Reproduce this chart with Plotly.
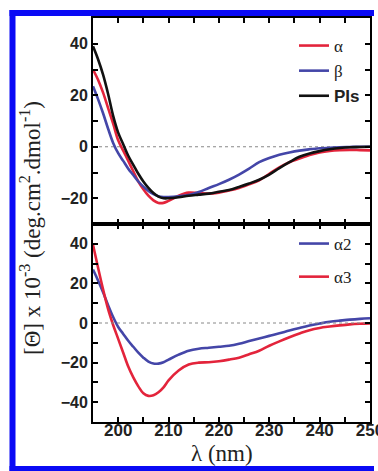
import plotly.graph_objects as go
from plotly.subplots import make_subplots

# ---------------- data ----------------
wl = [195, 196, 197, 198, 199, 200, 201, 202, 203, 204, 205, 206, 207, 208, 209, 210,
      212, 214, 216, 218, 220, 222, 224, 226, 228, 230, 232, 234, 236, 238, 240,
      242, 244, 246, 248, 250]

alpha = [30, 26, 21, 15, 9, 2.5, -1.5, -5.5, -9.5, -13.5, -16.5, -19, -20.8, -21.8, -21.8, -21,
         -19, -17.8, -18, -18.2, -17.8, -17, -16, -14.6, -13, -10.5, -8, -6, -4.6, -3.2, -2.2,
         -1.6, -1.3, -1.2, -1.3, -1.4]
beta = [23.5, 18.5, 13, 7, 1.5, -2.5, -5.5, -8.5, -11, -13.5, -15.5, -17.2, -18.4, -19.2, -19.5, -19.5,
        -19.2, -18.7, -17.6, -16, -14.5, -12.8, -10.8, -8.5, -6, -4.4, -3.1, -2.2, -1.5, -1.0, -0.6,
        -0.4, -0.2, -0.1, 0, 0]
pis = [39, 34, 28, 20.5, 12, 5.5, 1, -3.5, -7, -10.5, -13.5, -16, -18, -19.4, -20, -20,
       -19.6, -19, -18.6, -18.2, -17.5, -16.8, -15.6, -14.3, -12.8, -10.8, -8.3, -6, -3.9, -2.6, -1.7,
       -1.0, -0.5, -0.2, -0.1, 0]

alpha2 = [27, 21.5, 15.5, 9, 3, -2, -5.5, -9, -12, -15, -17.5, -19.5, -20.5, -20.5, -19.8, -18.5,
          -16, -14, -13, -12.5, -12, -11.5, -10.5, -9.1, -7.8, -6.5, -5.2, -3.8, -2.5, -1.3, -0.3,
          0.6, 1.2, 1.7, 2.1, 2.4]
alpha3 = [39.5, 28, 17, 7, -1, -8, -15, -22, -27.5, -32, -35.5, -36.8, -36.5, -35, -32.5, -29,
          -24, -21, -20, -19.8, -19.3, -18.5, -17.5, -15.8, -14, -11.5, -9.3, -7.2, -5.3, -3.6, -2.5,
          -1.8, -1.2, -0.7, -0.4, -0.2]

x_range = [195, 250]
x_ticks = [200, 210, 220, 230, 240, 250]
y_ticks = [-40, -20, 0, 20, 40]
zero_line = [0, 0]

RED = "#e3243b"
BLUE = "#4446a8"
BLACK = "#111111"

fig = make_subplots(rows=2, cols=1, shared_xaxes=True, vertical_spacing=0,
                    row_heights=[206, 198])

serif = "Liberation Serif"
sans = "Liberation Sans"

def nm(t, fam):
    return f'<span style="font-family:{fam}">{t}</span>'

# dotted zero line, top panel
fig.add_trace(go.Scatter(x=x_range, y=zero_line, mode="lines", showlegend=False, hoverinfo="skip",
                         line=dict(color="#888888", width=1, dash="dot")), row=1, col=1)

top = [("α", alpha, RED, serif), ("β", beta, BLUE, serif), ("<b>PIs</b>", pis, BLACK, sans)]
for i, (name, ys, col, fam) in enumerate(top):
    fig.add_trace(go.Scatter(x=wl, y=ys, mode="lines", name=nm(name, fam),
                             line=dict(color=col, width=2.6, shape="spline"),
                             legend="legend", legendgroup=f"t{i}"), row=1, col=1)

# dotted zero line, bottom panel (on overlay axis that carries the tick labels)
fig.add_trace(go.Scatter(x=x_range, y=zero_line, mode="lines", showlegend=False, hoverinfo="skip",
                         xaxis="x3", yaxis="y2",
                         line=dict(color="#888888", width=1, dash="dot")))

bot = [("α2", alpha2, BLUE), ("α3", alpha3, RED)]
for i, (name, ys, col) in enumerate(bot):
    fig.add_trace(go.Scatter(x=wl, y=ys, mode="lines", name=nm(name, serif),
                             line=dict(color=col, width=2.6, shape="spline"),
                             legend="legend2", legendgroup=f"b{i}"), row=2, col=1)

axis_common = dict(showline=True, linecolor="black", linewidth=2, mirror="allticks",
                   ticks="inside", ticklen=5, tickwidth=1.5, tickcolor="black",
                   showgrid=False, zeroline=False, automargin=False)

fig.update_xaxes(range=x_range, tickvals=x_ticks, showticklabels=False, **axis_common,
                 minor=dict(ticks="inside", ticklen=5, tickwidth=1.5, tickcolor="black", dtick=5, tick0=195))
fig.update_yaxes(tickvals=y_ticks, **axis_common,
                 tickfont=dict(family=sans, size=16, color="#222222", weight="bold"),
                 minor=dict(ticks="inside", ticklen=5, tickwidth=1.5, tickcolor="black", dtick=10, tick0=0))
fig.update_yaxes(range=[-30, 50], row=1, col=1)
fig.update_yaxes(range=[-50, 50], row=2, col=1)

W, H = 378, 471
L, R, T, B = 93, 8, 18, 49
pw, ph = W - L - R, H - T - B

def px(x):
    return (x - L) / pw

def py(y):
    return (H - B - y) / ph

fig.update_layout(
    width=W, height=H,
    margin=dict(l=L, r=R, t=T, b=B, autoexpand=False),
    plot_bgcolor="white", paper_bgcolor="white",
    xaxis3=dict(overlaying="x2", anchor="free", position=py(418), side="bottom",
                range=x_range, tickvals=x_ticks, showline=False, ticks="", showgrid=False,
                zeroline=False, automargin=False, ticklabeloverflow="allow",
                tickfont=dict(family=sans, size=17, color="#222222", weight="bold")),
    legend=dict(x=px(294), y=py(28), xanchor="left", yanchor="top",
                font=dict(family=sans, size=17, color="#222222"),
                bgcolor="rgba(0,0,0,0)", tracegroupgap=0, itemwidth=30),
    legend2=dict(x=px(294), y=py(226), xanchor="left", yanchor="top",
                 font=dict(family=serif, size=17, color="#222222"),
                 bgcolor="rgba(0,0,0,0)", tracegroupgap=8, itemwidth=30),
    annotations=[
        dict(text="[Θ] x 10<sup>-3</sup> (deg.cm<sup>2</sup>.dmol<sup>-1</sup>)",
             xref="paper", yref="paper", x=px(30), y=py(228), textangle=-90,
             showarrow=False, font=dict(family=serif, size=23, color="#222222"),
             xanchor="center", yanchor="middle"),
        dict(text="λ (nm)", xref="paper", yref="paper", x=px(222), y=py(453),
             showarrow=False, font=dict(family=serif, size=23, color="#222222"),
             xanchor="center", yanchor="middle"),
    ],
)

# blue frame around the figure (left, top, bottom edges; right edge lies outside the crop)
BORDER = dict(color="#0a0af5", width=6)
fig.add_shape(type="line", xref="paper", yref="paper", x0=px(12.5), x1=px(12.5),
              y0=py(471), y1=py(10), line=BORDER, layer="below")
fig.add_shape(type="line", xref="paper", yref="paper", x0=px(9.5), x1=px(374),
              y0=py(13), y1=py(13), line=BORDER, layer="below")
fig.add_shape(type="line", xref="paper", yref="paper", x0=px(9.5), x1=px(374),
              y0=py(469), y1=py(469), line=BORDER, layer="below")

fig.write_html("out.html", config={"displayModeBar": False},
               post_script="document.body.style.margin='0';document.body.style.overflow='hidden';")
